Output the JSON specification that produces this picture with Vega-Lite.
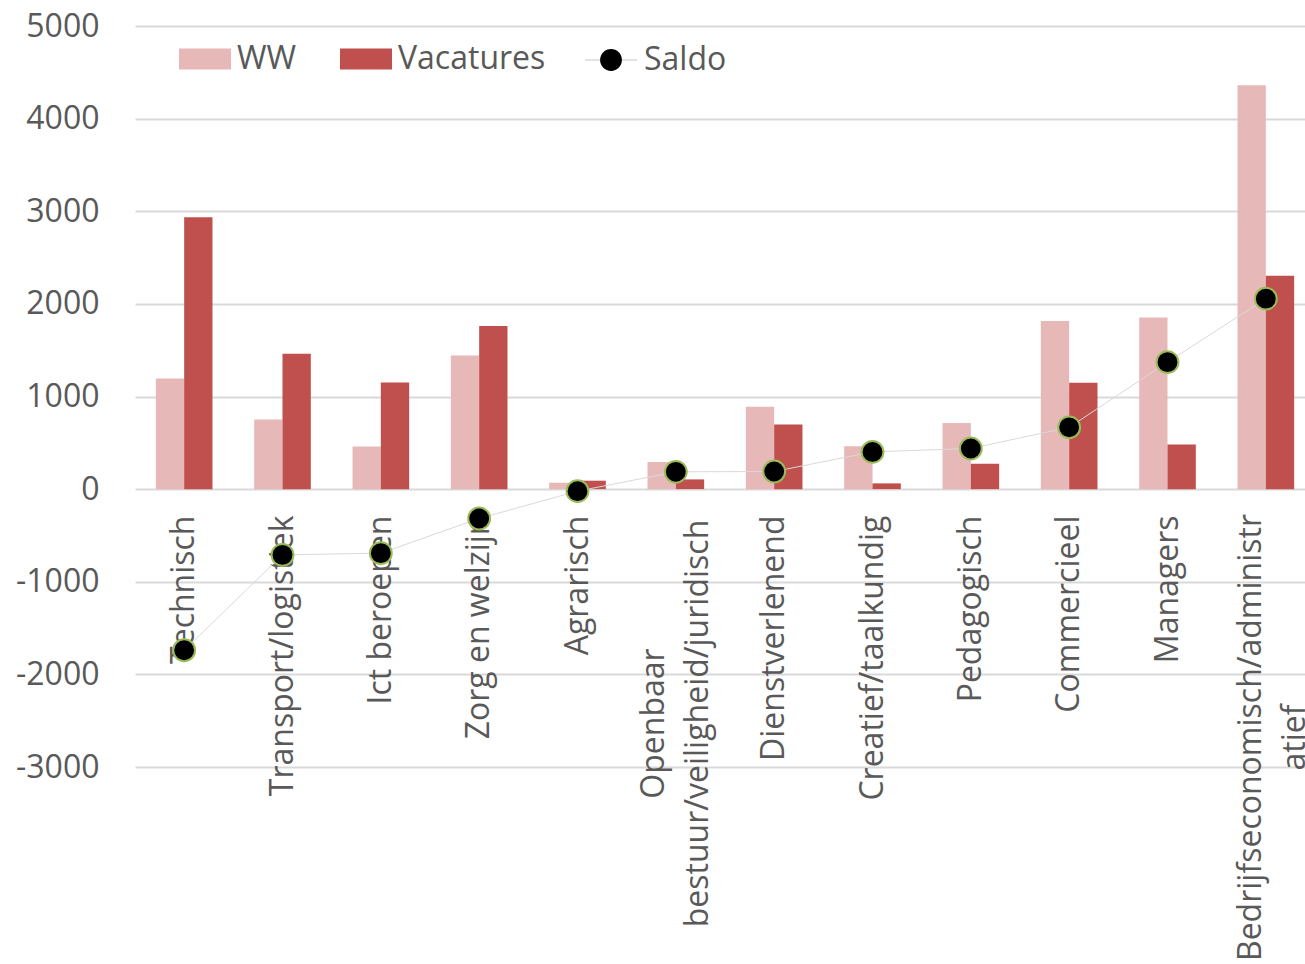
{
  "$schema": "https://vega.github.io/schema/vega-lite/v6.json",
  "autosize": "none",
  "padding": {"left": 135, "top": 26, "right": 0, "bottom": 197},
  "width": 1170,
  "height": 741,
  "config": {"view": {"stroke": null}, "font": "Open Sans"},
  "datasets": {
    "bars": [
      {"category": "Technisch", "series": "WW", "value": 1195},
      {"category": "Technisch", "series": "Vacatures", "value": 2936},
      {"category": "Transport/logistiek", "series": "WW", "value": 752},
      {"category": "Transport/logistiek", "series": "Vacatures", "value": 1462},
      {"category": "Ict beroepen", "series": "WW", "value": 461},
      {"category": "Ict beroepen", "series": "Vacatures", "value": 1152},
      {"category": "Zorg en welzijn", "series": "WW", "value": 1443},
      {"category": "Zorg en welzijn", "series": "Vacatures", "value": 1760},
      {"category": "Agrarisch", "series": "WW", "value": 69},
      {"category": "Agrarisch", "series": "Vacatures", "value": 91},
      {"category": "Openbaar bestuur/veiligheid/juridisch", "series": "WW", "value": 292},
      {"category": "Openbaar bestuur/veiligheid/juridisch", "series": "Vacatures", "value": 105},
      {"category": "Dienstverlenend", "series": "WW", "value": 889},
      {"category": "Dienstverlenend", "series": "Vacatures", "value": 699},
      {"category": "Creatief/taalkundig", "series": "WW", "value": 464},
      {"category": "Creatief/taalkundig", "series": "Vacatures", "value": 62},
      {"category": "Pedagogisch", "series": "WW", "value": 713},
      {"category": "Pedagogisch", "series": "Vacatures", "value": 274},
      {"category": "Commercieel", "series": "WW", "value": 1814},
      {"category": "Commercieel", "series": "Vacatures", "value": 1149},
      {"category": "Managers", "series": "WW", "value": 1854},
      {"category": "Managers", "series": "Vacatures", "value": 483},
      {"category": "Bedrijfseconomisch/administratief", "series": "WW", "value": 4360},
      {"category": "Bedrijfseconomisch/administratief", "series": "Vacatures", "value": 2304}
    ],
    "saldo": [
      {"category": "Technisch", "value": -1740},
      {"category": "Transport/logistiek", "value": -710},
      {"category": "Ict beroepen", "value": -691},
      {"category": "Zorg en welzijn", "value": -317},
      {"category": "Agrarisch", "value": -22},
      {"category": "Openbaar bestuur/veiligheid/juridisch", "value": 187},
      {"category": "Dienstverlenend", "value": 190},
      {"category": "Creatief/taalkundig", "value": 402},
      {"category": "Pedagogisch", "value": 439},
      {"category": "Commercieel", "value": 667},
      {"category": "Managers", "value": 1371},
      {"category": "Bedrijfseconomisch/administratief", "value": 2056}
    ]
  },
  "encoding": {
    "x": {
      "field": "category",
      "type": "nominal",
      "sort": null,
      "scale": {
        "domain": ["Technisch", "Transport/logistiek", "Ict beroepen", "Zorg en welzijn", "Agrarisch", "Openbaar bestuur/veiligheid/juridisch", "Dienstverlenend", "Creatief/taalkundig", "Pedagogisch", "Commercieel", "Managers", "Bedrijfseconomisch/administratief"],
        "range": [0, 1180],
        "paddingInner": 0.424,
        "paddingOuter": 0.212
      },
      "axis": {
        "title": null,
        "orient": "bottom",
        "offset": -278,
        "domain": false,
        "ticks": false,
        "grid": false,
        "labelAngle": -90,
        "labelBaseline": "middle",
        "labelAlign": {
          "condition": {"test": "datum.value == 'Openbaar bestuur/veiligheid/juridisch' || datum.value == 'Bedrijfseconomisch/administratief'", "value": "center"},
          "value": "right"
        },
        "labelPadding": {
          "condition": [
            {"test": "datum.value == 'Openbaar bestuur/veiligheid/juridisch'", "value": 234},
            {"test": "datum.value == 'Bedrijfseconomisch/administratief'", "value": 248}
          ],
          "value": 26
        },
        "labelOffset": {
          "condition": [
            {"test": "datum.value == 'Openbaar bestuur/veiligheid/juridisch'", "value": -22},
            {"test": "datum.value == 'Bedrijfseconomisch/administratief'", "value": -15}
          ],
          "value": 0
        },
        "labelExpr": "datum.value == 'Openbaar bestuur/veiligheid/juridisch' ? ['Openbaar', 'bestuur/veiligheid/juridisch'] : datum.value == 'Bedrijfseconomisch/administratief' ? ['Bedrijfseconomisch/administr', 'atief'] : datum.label",
        "labelLineHeight": 44,
        "labelFont": "Open Sans",
        "labelFontSize": 32,
        "labelColor": "#595959",
        "labelLimit": 1000,
        "labelOverlap": false,
        "labelBound": false,
        "labelFlush": false
      }
    },
    "y": {
      "field": "value",
      "type": "quantitative",
      "scale": {"domain": [-3000, 5000], "nice": false, "zero": false},
      "axis": {
        "title": null,
        "values": [-3000, -2000, -1000, 0, 1000, 2000, 3000, 4000, 5000],
        "labelExpr": "'' + datum.value",
        "domain": false,
        "ticks": false,
        "grid": true,
        "gridColor": "#D9D9D9",
        "gridWidth": 2,
        "labelPadding": 36,
        "labelFont": "Open Sans",
        "labelFontSize": 32,
        "labelColor": "#595959"
      }
    }
  },
  "layer": [
    {
      "data": {"name": "bars"},
      "mark": {"type": "bar"},
      "encoding": {
        "xOffset": {"field": "series", "type": "nominal", "sort": null, "scale": {"domain": ["WW", "Vacatures"], "paddingInner": 0, "paddingOuter": 0}},
        "color": {
          "field": "series",
          "type": "nominal",
          "scale": {"domain": ["WW", "Vacatures"], "range": ["#E6B9B8", "#C0504D"]},
          "legend": {
            "orient": "none",
            "legendX": 44,
            "legendY": 7,
            "direction": "horizontal",
            "title": null,
            "padding": 0,
            "symbolType": "M-1,-0.4H1V0.4H-1Z",
            "symbolSize": 2704,
            "symbolStrokeWidth": 0,
            "labelFont": "Open Sans",
            "labelFontSize": 32,
            "labelColor": "#595959",
            "labelOffset": 6,
            "columnPadding": 43
          }
        }
      }
    },
    {
      "data": {"name": "saldo"},
      "mark": {"type": "line", "strokeWidth": 1},
      "encoding": {
        "stroke": {
          "datum": "Saldo ",
          "type": "nominal",
          "scale": {"range": ["#D9D9D9"]},
          "legend": {
            "orient": "none",
            "legendX": 449,
            "legendY": 7,
            "title": null,
            "padding": 0,
            "symbolType": "M-1,0H-0.42M0.42,0H1",
            "symbolSize": 2704,
            "symbolStrokeColor": "#D9D9D9",
            "symbolStrokeWidth": 1.5,
            "labelFont": "Open Sans",
            "labelFontSize": 32,
            "labelColor": "#595959",
            "labelOpacity": 0,
            "labelOffset": 6
          }
        }
      }
    },
    {
      "data": {"name": "saldo"},
      "mark": {"type": "point", "filled": true, "color": "#000000", "fill": "#000000", "stroke": "#9BBB59", "strokeWidth": 2, "size": 2704, "opacity": 1},
      "encoding": {
        "shape": {
          "datum": "Saldo",
          "type": "nominal",
          "scale": {"range": ["M-0.42,0A0.42,0.42,0,1,1,0.42,0A0.42,0.42,0,1,1,-0.42,0Z"]},
          "legend": {
            "orient": "none",
            "legendX": 449,
            "legendY": 7,
            "title": null,
            "padding": 0,
            "symbolSize": 2704,
            "symbolFillColor": "#000000",
            "symbolStrokeColor": "#9BBB59",
            "symbolStrokeWidth": 2,
            "labelFont": "Open Sans",
            "labelFontSize": 32,
            "labelColor": "#595959",
            "labelOffset": 6
          }
        }
      }
    }
  ]
}
